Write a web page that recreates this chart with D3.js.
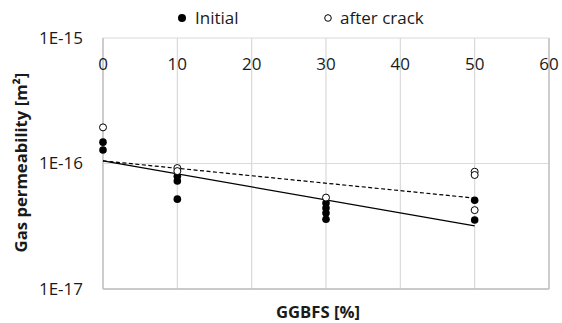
<!DOCTYPE html>
<html>
<head>
<meta charset="utf-8">
<script src="https://cdn.jsdelivr.net/npm/d3@7"></script>
<style>
body { margin: 0; background: #fff; }
svg { display: block; }
text { font-family: "Open Sans", "Noto Sans", sans-serif; }
</style>
</head>
<body>
<svg id="chart" width="562" height="323"></svg>
<script>
// ---- data ----
const initialX = [0, 0, 10, 10, 10, 30, 30, 30, 30, 50, 50];
const initialY = [1.48e-16, 1.28e-16, 7.9e-17, 7.25e-17, 5.2e-17, 4.85e-17, 4.42e-17, 4.03e-17, 3.6e-17, 5.1e-17, 3.55e-17];
const afterX = [0, 10, 10, 30, 50, 50, 50];
const afterY = [1.94e-16, 9.2e-17, 8.7e-17, 5.35e-17, 8.6e-17, 8.1e-17, 4.25e-17];
const trendX = [0, 50];
const trendInitial = [1.05e-16, 3.18e-17];
const trendAfter = [1.05e-16, 5.3e-17];
const xTicks = [0, 10, 20, 30, 40, 50, 60];
const yTicks = [1e-15, 1e-16, 1e-17];
const yTickLabels = ["1E-15", "1E-16", "1E-17"];
const legendLabels = ["Initial", "after crack"];

// ---- layout ----
const svg = d3.select("#chart");
const L = 103, R = 549, T = 38, B = 289;
const x = d3.scaleLinear().domain([0, 60]).range([L, R]);
const y = d3.scaleLog().domain([1e-17, 1e-15]).range([B, T]);
const txt = "#1a1a1a";

const grid = "#d9d9d9";
svg.append("g").selectAll("line").data(xTicks).join("line")
  .attr("x1", d => x(d)).attr("x2", d => x(d))
  .attr("y1", T).attr("y2", B)
  .attr("stroke", grid).attr("stroke-width", 1.2);
svg.append("g").selectAll("line").data(yTicks).join("line")
  .attr("x1", L).attr("x2", R)
  .attr("y1", d => y(d)).attr("y2", d => y(d))
  .attr("stroke", grid).attr("stroke-width", 1.2);
// border
svg.append("line").attr("x1", L).attr("x2", R).attr("y1", B).attr("y2", B)
  .attr("stroke", "#bfbfbf").attr("stroke-width", 1.3);
svg.append("line").attr("x1", R).attr("x2", R).attr("y1", T).attr("y2", B)
  .attr("stroke", "#bfbfbf").attr("stroke-width", 1.3);
svg.append("line").attr("x1", L).attr("x2", L).attr("y1", T).attr("y2", B)
  .attr("stroke", "#bfbfbf").attr("stroke-width", 1.3);

// y tick labels
svg.append("g").selectAll("text").data(yTicks).join("text")
  .attr("x", 83).attr("y", d => y(d)).attr("dy", "0.35em")
  .attr("text-anchor", "end").attr("font-size", 17).attr("fill", txt)
  .text((d, i) => yTickLabels[i]);
// x tick labels (top)
svg.append("g").selectAll("text").data(xTicks).join("text")
  .attr("x", d => x(d)).attr("y", 64).attr("dy", "0.35em")
  .attr("text-anchor", "middle").attr("font-size", 17).attr("fill", txt)
  .text(d => d);

// trend lines
const line = d3.line().x(d => x(d[0])).y(d => y(d[1]));
svg.append("path").datum(trendX.map((v, i) => [v, trendInitial[i]]))
  .attr("d", line).attr("fill", "none").attr("stroke", "#000").attr("stroke-width", 1.2);
svg.append("path").datum(trendX.map((v, i) => [v, trendAfter[i]]))
  .attr("d", line).attr("fill", "none").attr("stroke", "#000").attr("stroke-width", 1.2)
  .attr("stroke-dasharray", "4,2.5");

// points
svg.append("g").selectAll("circle").data(initialX.map((v, i) => [v, initialY[i]])).join("circle")
  .attr("cx", d => x(d[0])).attr("cy", d => y(d[1])).attr("r", 3.8)
  .attr("fill", "#000");
svg.append("g").selectAll("circle").data(afterX.map((v, i) => [v, afterY[i]])).join("circle")
  .attr("cx", d => x(d[0])).attr("cy", d => y(d[1])).attr("r", 3.5)
  .attr("fill", "#fff").attr("stroke", "#000").attr("stroke-width", 1);

// axis titles
svg.append("text").attr("x", 318).attr("y", 312).attr("dy", "0.35em")
  .attr("text-anchor", "middle").attr("font-size", 16.7).attr("font-weight", "bold")
  .attr("fill", txt).text("GGBFS [%]");
svg.append("text").attr("transform", `translate(21,${(T + B) / 2 - 1}) rotate(-90)`)
  .attr("dy", "0.35em").attr("text-anchor", "middle").attr("font-size", 16.7)
  .attr("font-weight", "bold").attr("fill", txt)
  .text("Gas permeability [m²]");

// legend
const leg = svg.append("g");
leg.append("circle").attr("cx", 182).attr("cy", 18).attr("r", 4).attr("fill", "#000");
leg.append("text").attr("x", 195).attr("y", 18).attr("dy", "0.35em")
  .attr("font-size", 17).attr("fill", txt).text(legendLabels[0]);
leg.append("circle").attr("cx", 328).attr("cy", 18).attr("r", 3.3)
  .attr("fill", "#fff").attr("stroke", "#000").attr("stroke-width", 1);
leg.append("text").attr("x", 340).attr("y", 18).attr("dy", "0.35em")
  .attr("font-size", 17).attr("fill", txt).text(legendLabels[1]);
</script>
</body>
</html>
